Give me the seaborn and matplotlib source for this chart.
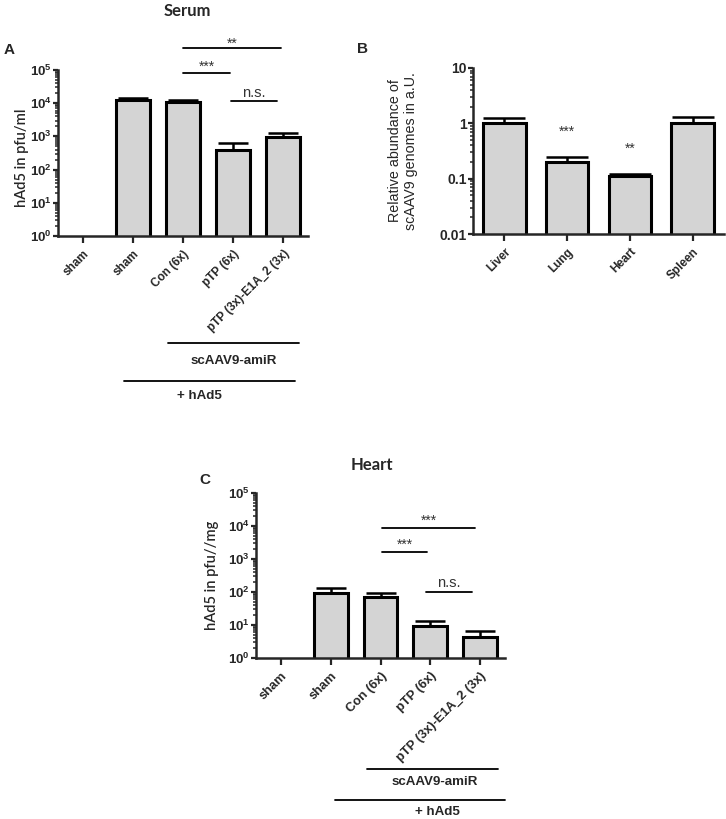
import numpy as np
import pandas as pd
import matplotlib
matplotlib.use("Agg")
import matplotlib.pyplot as plt
import matplotlib.ticker as mticker
import seaborn as sns

sns.set_style("ticks")
plt.rcParams["font.family"] = ["Liberation Sans", "DejaVu Sans"]
plt.rcParams["mathtext.fontset"] = "custom"
plt.rcParams["mathtext.rm"] = "Liberation Sans"
plt.rcParams["mathtext.bf"] = "Liberation Sans:bold"

# Panel A: serum
serum_labels = ["sham", "sham", "Con (6x)", "pTP (6x)", "pTP (3x)-E1A_2 (3x)"]
serum_mean = [np.nan, 12300, 10500, 400, 950]
serum_upper = [np.nan, 14000, 12500, 650, 1300]

# Panel B: tissue genomes
organ_labels = ["Liver", "Lung", "Heart", "Spleen"]
organ_mean = [1.0, 0.20, 0.113, 1.0]
organ_upper = [1.23, 0.25, 0.123, 1.28]
organ_stars = ["", "***", "**", ""]

# Panel C: heart
heart_labels = ["sham", "sham", "Con (6x)", "pTP (6x)", "pTP (3x)-E1A_2 (3x)"]
heart_mean = [np.nan, 95, 70, 9.5, 4.3]
heart_upper = [np.nan, 130, 95, 13, 6.5]

W, H = 726, 819
fig = plt.figure(figsize=(W / 100, H / 100), dpi=100)


def px_axes(left, top, right, bottom):
    return fig.add_axes([left / W, 1 - bottom / H, (right - left) / W, (bottom - top) / H])


def fig_text(x, y, s, **kw):
    fig.text(x / W, 1 - y / H, s, **kw)


def bar_panel(ax, labels, mean, upper, width, cap, xfs):
    df = pd.DataFrame({"pos": list(range(len(labels))), "val": mean})
    sns.barplot(data=df, x="pos", y="val", ax=ax, color="#d4d4d4", width=width,
                edgecolor="black", linewidth=2.2, errorbar=None, saturation=1)
    x = np.arange(len(labels))
    m = np.array(mean, dtype=float)
    u = np.array(upper, dtype=float)
    ax.errorbar(x, m, yerr=[np.zeros_like(m), u - m], fmt="none", ecolor="black",
                elinewidth=1.8, capsize=cap, capthick=1.8, zorder=1)
    ax.set_yscale("log")
    ax.set_xlim(-0.5, len(labels) - 0.5)
    ax.set_xticks(x)
    ax.set_xticklabels(labels, rotation=45, ha="right", rotation_mode="anchor",
                       fontsize=xfs, fontweight="bold")
    ax.set_xlabel("")
    for s in ["top", "right"]:
        ax.spines[s].set_visible(False)
    for s in ["left", "bottom"]:
        ax.spines[s].set_linewidth(1.8)
    ax.yaxis.set_minor_locator(mticker.LogLocator(base=10, subs=np.arange(2, 10), numticks=20))
    ax.yaxis.set_minor_formatter(mticker.NullFormatter())
    ax.tick_params(axis="x", which="major", width=1.6, length=5)
    ax.tick_params(axis="y", which="major", width=1.6, length=3.5, pad=1, labelsize=9.5)
    ax.tick_params(axis="y", which="minor", left=True, width=1.1, length=2.5)


def power_axis(ax):
    ax.set_ylim(1, 1e5)
    ax.set_yticks([1e0, 1e1, 1e2, 1e3, 1e4, 1e5])
    ax.set_yticklabels([r"$\mathbf{10^{%d}}$" % i for i in range(6)], fontsize=9.5)


def sig_line(ax, x0, x1, y, text, ty, fs):
    ax.plot([x0, x1], [y, y], color="black", lw=1.3, clip_on=False)
    ax.text((x0 + x1) / 2, ty, text, ha="center", va="center", fontsize=fs,
            color="#333333", clip_on=False)


def group_line(ax, x0, x1, y, text, tx, ty):
    ax.plot([x0, x1], [y, y], color="black", lw=1.3, transform=ax.transAxes, clip_on=False)
    ax.text(tx, ty, text, transform=ax.transAxes, ha="center", va="center",
            fontsize=9.6, fontweight="bold")


# ---- A
axA = px_axes(58, 70, 308, 236)
bar_panel(axA, serum_labels, serum_mean, serum_upper, 0.68, 11, 8.5)
power_axis(axA)
axA.set_ylabel("hAd5 in pfu/ml", fontsize=10.5, family=["Lato", "DejaVu Sans"],
               fontweight="semibold")
axA.yaxis.set_label_coords(-0.118, 0.47)
sig_line(axA, 2.0, 3.96, 10 ** 5.67, "**", 10 ** 5.8, 10)
sig_line(axA, 2.0, 2.94, 10 ** 4.91, "***", 10 ** 5.1, 10)
sig_line(axA, 2.96, 3.88, 10 ** 4.06, "n.s.", 10 ** 4.3, 10.5)
group_line(axA, 0.44, 0.964, -0.645, "scAAV9-amiR", 0.704, -0.753)
group_line(axA, 0.264, 0.948, -0.873, "+ hAd5", 0.564, -0.964)

# ---- B
axB = px_axes(473, 68, 724, 234)
bar_panel(axB, organ_labels, organ_mean, organ_upper, 0.68, 15, 8.5)
axB.set_ylim(0.01, 10)
axB.set_yticks([0.01, 0.1, 1, 10])
axB.set_yticklabels(["0.01", "0.1", "1", "10"], fontsize=10, fontweight="bold")
axB.set_ylabel("Relative abundance of\nscAAV9 genomes in a.U.", fontsize=10.3)
axB.yaxis.set_label_coords(-0.219, 0.5)
for i, s in enumerate(organ_stars):
    if s:
        axB.text(i, organ_upper[i] * 2.8, s, ha="center", va="center", fontsize=10,
                 color="#333333")

# ---- C
axC = px_axes(256, 493, 505, 658)
bar_panel(axC, heart_labels, heart_mean, heart_upper, 0.68, 11, 9.3)
power_axis(axC)
axC.set_ylabel("hAd5 in pfu//mg", fontsize=10.5, family=["Lato", "DejaVu Sans"],
               fontweight="semibold")
axC.yaxis.set_label_coords(-0.15, 0.5)
sig_line(axC, 2.04, 3.9, 10 ** 3.94, "***", 10 ** 4.15, 10)
sig_line(axC, 2.04, 2.94, 10 ** 3.21, "***", 10 ** 3.42, 10)
sig_line(axC, 2.92, 3.84, 10 ** 2.0, "n.s.", 10 ** 2.26, 10.5)
group_line(axC, 0.446, 0.972, -0.673, "scAAV9-amiR", 0.719, -0.75)
group_line(axC, 0.317, 1.0, -0.86, "+ hAd5", 0.727, -0.935)

# titles and panel letters
fig_text(187, 11, "Serum", ha="center", va="center", fontsize=12, fontweight="bold",
         family=["Lato", "DejaVu Sans"])
fig_text(372, 465, "Heart", ha="center", va="center", fontsize=12, fontweight="bold",
         family=["Lato", "DejaVu Sans"])
fig_text(9, 50, "A", ha="center", va="center", fontsize=11, fontweight="bold")
fig_text(363, 49, "B", ha="center", va="center", fontsize=11, fontweight="bold")
fig_text(205, 480, "C", ha="center", va="center", fontsize=11, fontweight="bold")

fig.savefig("out.png", dpi=100)
